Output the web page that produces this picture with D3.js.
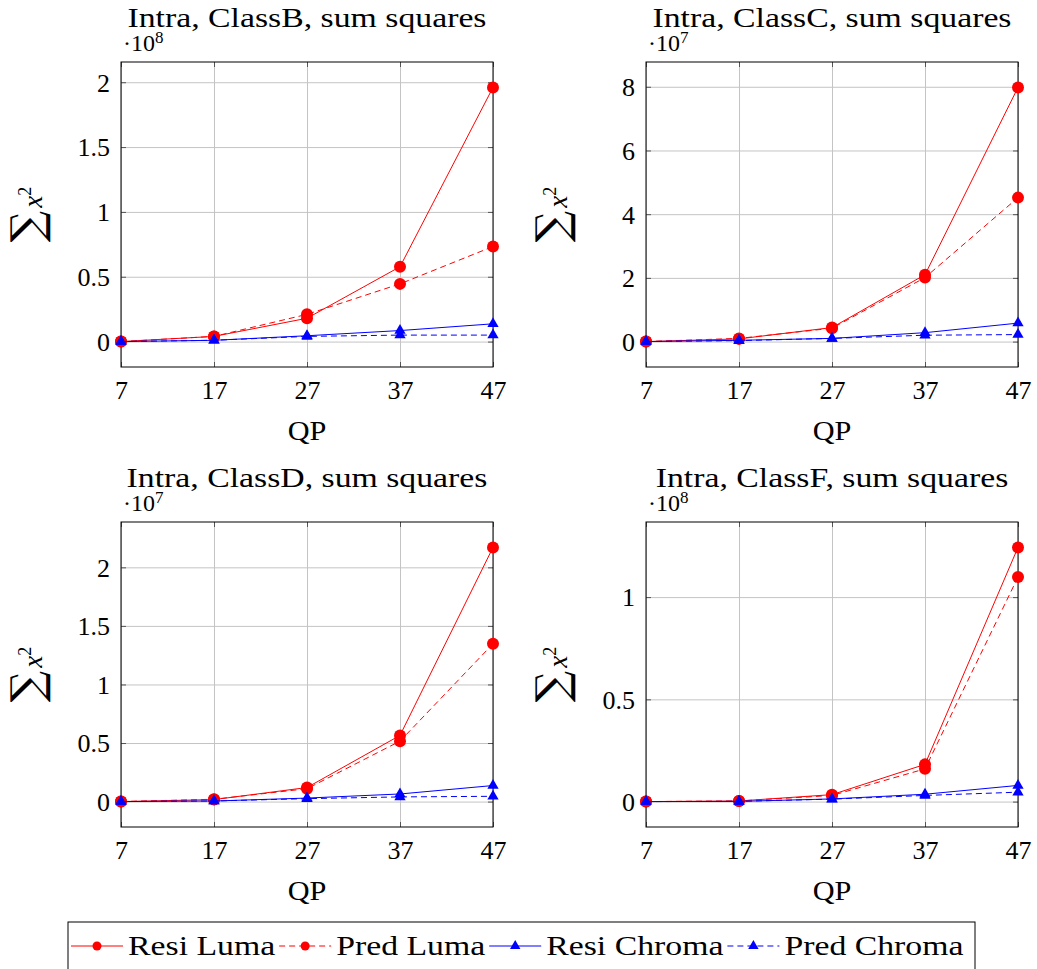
<!DOCTYPE html>
<html>
<head>
<meta charset="utf-8">
<script src="https://d3js.org/d3.v7.min.js"></script>
<style>
  body { margin: 0; background: #fff; }
  text { font-family: "Liberation Serif", "DejaVu Serif", serif; fill: #000; }
</style>
</head>
<body>
<div id="chart"></div>
<script>
// x values
var qp = [7, 17, 27, 37, 47];

// ClassB, values in units of 10^8
var resiLumaB   = [0, 0.04, 0.18, 0.577, 1.96];
var predLumaB   = [0, 0.04, 0.21, 0.445, 0.733];
var resiChromaB = [0, 0.01, 0.045, 0.085, 0.137];
var predChromaB = [0, 0.01, 0.04, 0.05, 0.05];

// ClassC, units of 10^7
var resiLumaC   = [0, 0.085, 0.44, 2.1, 7.98];
var predLumaC   = [0, 0.1, 0.42, 2.01, 4.52];
var resiChromaC = [0, 0.04, 0.1, 0.28, 0.58];
var predChromaC = [0, 0.03, 0.1, 0.2, 0.22];

// ClassD, units of 10^7
var resiLumaD   = [0, 0.017, 0.12, 0.565, 2.17];
var predLumaD   = [0, 0.02, 0.11, 0.516, 1.347];
var resiChromaD = [0, 0.005, 0.03, 0.065, 0.137];
var predChromaD = [0, 0.005, 0.025, 0.04, 0.045];

// ClassF, units of 10^8
var resiLumaF   = [0, 0.003, 0.034, 0.182, 1.243];
var predLumaF   = [0, 0.003, 0.03, 0.16, 1.098];
var resiChromaF = [0, 0.001, 0.013, 0.036, 0.079];
var predChromaF = [0, 0.001, 0.012, 0.03, 0.046];

var classNames = ["ClassB", "ClassC", "ClassD", "ClassF"];
var exponents = [8, 7, 7, 8];
var yTicksB = [0, 0.5, 1, 1.5, 2];
var yTicksC = [0, 2, 4, 6, 8];
var yTicksD = [0, 0.5, 1, 1.5, 2];
var yTicksF = [0, 0.5, 1];

var seriesNames = ["Resi Luma", "Pred Luma", "Resi Chroma", "Pred Chroma"];
var seriesColors = ["#ff0000", "#ff0000", "#0000ff", "#0000ff"];
var seriesDash = [null, "6,4", null, "6,4"];
var seriesMarks = ["circle", "circle", "triangle", "triangle"];

var panels = [
    { name: classNames[0], exp: exponents[0], ticks: yTicksB, series: [resiLumaB, predLumaB, resiChromaB, predChromaB] },
    { name: classNames[1], exp: exponents[1], ticks: yTicksC, series: [resiLumaC, predLumaC, resiChromaC, predChromaC] },
    { name: classNames[2], exp: exponents[2], ticks: yTicksD, series: [resiLumaD, predLumaD, resiChromaD, predChromaD] },
    { name: classNames[3], exp: exponents[3], ticks: yTicksF, series: [resiLumaF, predLumaF, resiChromaF, predChromaF] }
];

var W = 1037, H = 969;
var plotW = 372, plotH = 305;
var lefts = [121, 646], tops = [62, 522];
var widen = 1.25; // Computer Modern is wider than the installed serif

var svg = d3.select("#chart").append("svg")
    .attr("width", W)
    .attr("height", H);

// stretch a text horizontally, returns the new width
function stretch(sel, k) {
    var w = 0;
    sel.each(function() {
        var l = this.getComputedTextLength();
        w = l * k;
        d3.select(this).attr("textLength", w).attr("lengthAdjust", "spacingAndGlyphs");
    });
    return w;
}

function markPath(type, r) {
    if (type == "circle") {
        return d3.symbol().type(d3.symbolCircle).size(Math.PI * r * r)();
    }
    // triangle with vertices on radius r
    var h = r * 0.5, s = r * Math.sqrt(3) / 2;
    return "M0," + (-r) + "L" + s + "," + h + "L" + (-s) + "," + h + "Z";
}

function fmt(v) {
    return d3.format("~g")(v);
}

panels.forEach(function(p, i) {
    var col = i % 2, row = Math.floor(i / 2);
    var g = svg.append("g")
        .attr("transform", "translate(" + lefts[col] + "," + tops[row] + ")");

    var allVals = d3.merge(p.series);
    var lo = d3.min(allVals), hi = d3.max(allVals);
    var pad = (hi - lo) * 0.1;

    var x = d3.scaleLinear().domain([7, 47]).range([0, plotW]);
    var y = d3.scaleLinear().domain([lo - pad, hi + pad]).range([plotH, 0]);

    // grid
    g.append("g")
        .call(d3.axisLeft(y).tickValues(p.ticks).tickSize(-plotW).tickFormat(""))
        .call(function(a) { a.select(".domain").remove(); })
        .selectAll("line").attr("stroke", "#c4c4c4");
    g.append("g")
        .attr("transform", "translate(0," + plotH + ")")
        .call(d3.axisBottom(x).tickValues(qp).tickSize(-plotH).tickFormat(""))
        .call(function(a) { a.select(".domain").remove(); })
        .selectAll("line").attr("stroke", "#c4c4c4");

    // inner ticks on all sides
    var tl = 5;
    g.append("g").call(d3.axisLeft(y).tickValues(p.ticks).tickSize(-tl).tickFormat(""))
        .call(function(a) { a.select(".domain").remove(); }).selectAll("line").attr("stroke", "#555");
    g.append("g").attr("transform", "translate(" + plotW + ",0)")
        .call(d3.axisRight(y).tickValues(p.ticks).tickSize(-tl).tickFormat(""))
        .call(function(a) { a.select(".domain").remove(); }).selectAll("line").attr("stroke", "#555");
    g.append("g").attr("transform", "translate(0," + plotH + ")")
        .call(d3.axisBottom(x).tickValues(qp).tickSize(-tl).tickFormat(""))
        .call(function(a) { a.select(".domain").remove(); }).selectAll("line").attr("stroke", "#555");
    g.append("g")
        .call(d3.axisTop(x).tickValues(qp).tickSize(-tl).tickFormat(""))
        .call(function(a) { a.select(".domain").remove(); }).selectAll("line").attr("stroke", "#555");

    // tick labels
    var yl = g.append("g")
        .call(d3.axisLeft(y).tickValues(p.ticks).tickSize(0).tickPadding(11).tickFormat(fmt));
    yl.select(".domain").remove();
    yl.selectAll("text").attr("font-size", 26).attr("font-family", "Liberation Serif").attr("dy", "0.34em");

    var xl = g.append("g")
        .attr("transform", "translate(0," + plotH + ")")
        .call(d3.axisBottom(x).tickValues(qp).tickSize(0).tickPadding(14).tickFormat(fmt));
    xl.select(".domain").remove();
    xl.selectAll("text").attr("font-size", 26).attr("font-family", "Liberation Serif");

    // box
    g.append("rect")
        .attr("width", plotW).attr("height", plotH)
        .attr("fill", "none").attr("stroke", "#000").attr("stroke-width", 1);

    // series
    var line = d3.line()
        .x(function(d, j) { return x(qp[j]); })
        .y(function(d) { return y(d); });

    p.series.forEach(function(vals, s) {
        g.append("path")
            .datum(vals)
            .attr("d", line)
            .attr("fill", "none")
            .attr("stroke", seriesColors[s])
            .attr("stroke-width", 1)
            .attr("stroke-dasharray", seriesDash[s]);
        g.selectAll(".m" + s)
            .data(vals)
            .enter()
            .append("path")
            .attr("class", "m" + s)
            .attr("d", markPath(seriesMarks[s], seriesMarks[s] == "circle" ? 6 : 6.5))
            .attr("fill", seriesColors[s])
            .attr("transform", function(d, j) {
                return "translate(" + x(qp[j]) + "," + y(d) + ")";
            });
    });

    // title
    var title = g.append("text")
        .attr("x", plotW / 2)
        .attr("y", -35)
        .attr("text-anchor", "middle")
        .attr("font-size", 27)
        .text("Intra, " + p.name + ", sum squares");
    stretch(title, widen);

    // scale factor
    var sc = g.append("text")
        .attr("x", 2)
        .attr("y", -11)
        .attr("font-size", 24);
    sc.append("tspan").text("\u00b710");
    sc.append("tspan").attr("dy", -8).attr("font-size", 17).text(p.exp);

    // x label
    var xlab = g.append("text")
        .attr("x", plotW / 2)
        .attr("y", plotH + 73)
        .attr("text-anchor", "middle")
        .attr("font-size", 27)
        .text("QP");
    stretch(xlab, 1.12);

    // y label
    var ylab = g.append("text")
        .attr("transform", "translate(" + (-79) + "," + (plotH / 2) + ") rotate(-90)")
        .attr("text-anchor", "middle");
    ylab.append("tspan").attr("font-size", 44).attr("font-family", "DejaVu Serif").text("\u2211");
    ylab.append("tspan").attr("font-size", 27).attr("font-style", "italic").attr("dx", 3).text("x");
    ylab.append("tspan").attr("font-size", 18).attr("dy", -11).text("2");
});

// legend
var leg = svg.append("g").attr("transform", "translate(68,922)");
leg.append("rect")
    .attr("width", 907).attr("height", 80)
    .attr("fill", "#fff").attr("stroke", "#000").attr("stroke-width", 1);

var lx = 3, ly = 24;
seriesNames.forEach(function(name, s) {
    var e = leg.append("g").attr("transform", "translate(" + lx + "," + ly + ")");
    e.append("line")
        .attr("x1", 0).attr("x2", 52)
        .attr("stroke", seriesColors[s])
        .attr("stroke-width", 1)
        .attr("stroke-dasharray", seriesDash[s]);
    e.append("path")
        .attr("d", markPath(seriesMarks[s], seriesMarks[s] == "circle" ? 4.5 : 6))
        .attr("transform", "translate(26,0)")
        .attr("fill", seriesColors[s]);
    var t = e.append("text")
        .attr("x", 57)
        .attr("y", 9)
        .attr("font-size", 27)
        .text(name);
    var w = stretch(t, widen);
    lx += 57 + w + 4;
});
</script>
</body>
</html>
